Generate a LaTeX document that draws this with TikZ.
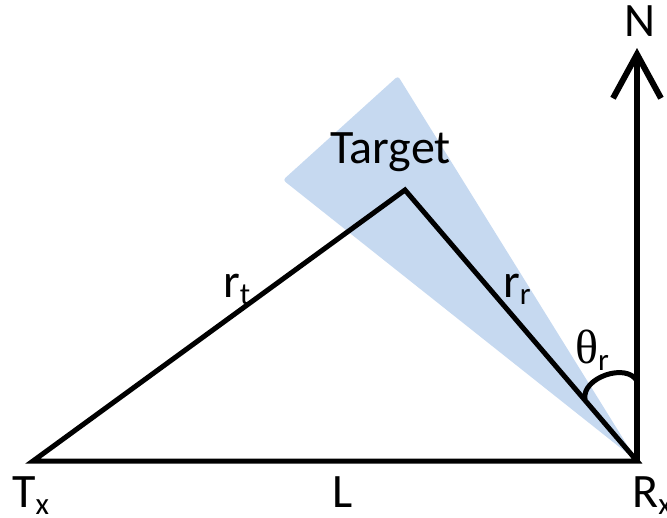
\documentclass[tikz,border=0pt]{standalone}
\usepackage{fontspec}
\setmainfont{Carlito}
\newfontfamily\grego{Liberation Serif}
\usetikzlibrary{arrows.meta}
\definecolor{azulcone}{RGB}{198,217,240}
\newcommand{\indice}[1]{\raisebox{-7pt}{\fontsize{31}{31}\selectfont #1}}

\begin{document}
\begin{tikzpicture}[
  x=1pt, y=-1pt,
  lado/.style = {line width=5pt},
  cone/.style = {fill=azulcone, rounded corners=3pt},
  rotulo/.style = {inner sep=0pt, anchor=base west, font=\fontsize{48}{56}\selectfont},
  seta/.style = {line width=6pt, -{Straight Barb[length=44pt, width=48pt]}},
]
\useasboundingbox (0,0) rectangle (667,517);
\coordinate (tx) at (33,461);
\coordinate (rx) at (637,461);
\coordinate (alvo) at (405,190);
\coordinate (norte) at (637,48);
\coordinate (cone1) at (283,180);
\coordinate (cone2) at (398,76);
\coordinate (arco1) at (585,399);
\coordinate (arco2) at (637,381);
% feixe do receptor
\fill[cone] (rx) -- (cone1) -- (cone2) -- cycle;
% triangulo biestatico
\draw[lado] (tx) -- (alvo) -- (rx) -- cycle;
\draw[seta] (rx) -- (norte);
\draw[lado] (arco1) to[bend left=80] (arco2);
% rotulos
\node[rotulo, anchor=base] (rn) at (640,36) {N};
\node[rotulo] (ralvo) at (330,163) {Target};
\node[rotulo] (rrt) at (223,297) {r\indice{t}};
\node[rotulo] (rrr) at (503,297) {r\indice{r}};
\node[rotulo] (rteta) at (575,363) {{\grego θ}\indice{r}};
\node[rotulo] (rtx) at (12,507) {T\indice{x}};
\node[rotulo] (rl) at (332,507) {L};
\node[rotulo] (rrx) at (632,507) {R\indice{x}};
\end{tikzpicture}
\end{document}
